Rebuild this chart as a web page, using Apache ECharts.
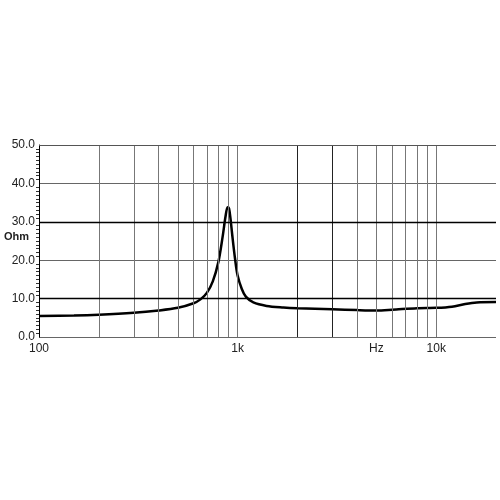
<!DOCTYPE html>
<html><head><meta charset="utf-8">
<script src="https://cdn.jsdelivr.net/npm/echarts@6/dist/echarts.min.js"></script>
<style>html,body{margin:0;background:#fff}#c{width:500px;height:500px}</style>
</head><body><div id="c"></div>
<script>
const freqs = [100, 150, 200, 300, 400, 500, 600, 650, 700, 750, 800, 840, 870, 890, 905, 920, 940, 970, 1000, 1050, 1100, 1200, 1400, 1700, 2000, 3000, 4000, 5000, 6000, 8000, 10000, 12000, 14000, 16000, 20000];
const ohms  = [5.5, 5.6, 5.8, 6.3, 6.9, 7.6, 8.8, 9.8, 11.5, 14.5, 19.5, 26, 31.5, 33.8, 33.5, 31, 26.5, 20.5, 16, 12.5, 10.5, 9, 8.1, 7.7, 7.5, 7.2, 7.0, 6.9, 7.1, 7.5, 7.6, 7.9, 8.6, 9.0, 9.1];
const yTicks = [0, 10, 20, 30, 40, 50];
const xLabels = {100: '100', 1000: '1k', 5000: 'Hz', 10000: '10k'};

const chart = echarts.init(document.getElementById('c'));
chart.setOption({
  animation: false,
  grid: {left: 39, right: 4, top: 145, bottom: 163},
  xAxis: {
    type: 'log', logBase: 10, min: 100, max: 20000,
    axisLine: {show: false}, axisTick: {show: false},
    axisLabel: {show: false},
    splitLine: {show: false}
  },
  yAxis: {
    type: 'value', min: 0, max: 50, interval: 10,
    axisLine: {show: true, lineStyle: {color: '#000'}},
    axisTick: {show: false},
    minorTick: {show: true, splitNumber: 10, length: 3, lineStyle: {color: '#333'}},
    axisLabel: {formatter: v => yTicks.includes(v) ? v.toFixed(1) : '', color: '#222', fontSize: 12, fontFamily: 'Liberation Sans', margin: 4},
    splitLine: {show: true, lineStyle: {color: '#666', width: 1}}
  },
  graphic: [
    {type: 'text', left: 4, top: 231, style: {text: 'Ohm', font: 'bold 11px "Liberation Sans"', fill: '#222'}}
  ],
  series: [
    {
      type: 'line', data: freqs.map((f, i) => [f, ohms[i]]),
      smooth: 0.3, symbol: 'none', lineStyle: {color: '#000', width: 2.5},
      markLine: {
        silent: true, symbol: 'none', label: {show: false},
        data: [
          ...[200, 300, 400, 500, 600, 700, 800, 900, 1000, 2000, 3000, 4000, 5000, 6000, 7000, 8000, 9000, 10000]
            .map(f => ({xAxis: f, lineStyle: {color: (f === 2000 || f === 3000) ? '#222' : '#777', width: 1, type: 'solid'}})),
          {yAxis: 10, lineStyle: {color: '#000', width: 1.3, type: 'solid'}},
          {yAxis: 30, lineStyle: {color: '#000', width: 1.3, type: 'solid'}},
          {yAxis: 50, lineStyle: {color: '#555', width: 1, type: 'solid'}}
        ]
      }
    }
  ]
});
// x tick labels placed through the axis scale
const labels = Object.keys(xLabels).map(f => {
  const p = chart.convertToPixel({xAxisIndex: 0, yAxisIndex: 0}, [Number(f), 0]);
  return {type: 'text', x: p[0], y: p[1] + 6, style: {text: xLabels[f], font: '12px "Liberation Sans"', fill: '#222', align: 'center'}};
});
chart.setOption({graphic: [{type: 'text', left: 4, top: 231, style: {text: 'Ohm', font: 'bold 11px "Liberation Sans"', fill: '#222'}}, ...labels]});
</script></body></html>
